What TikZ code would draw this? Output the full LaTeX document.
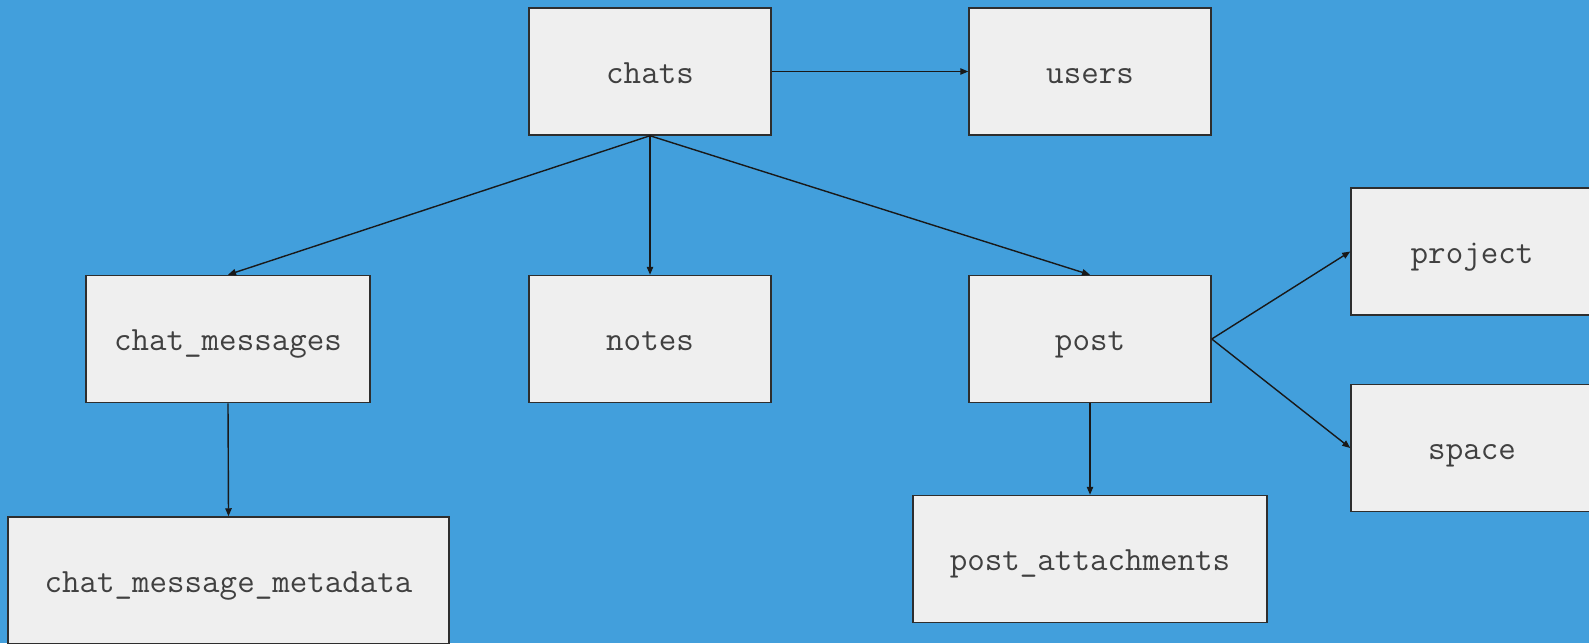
\documentclass[tikz,border=0pt]{standalone}
\usepackage{fontspec}
\usetikzlibrary{arrows.meta}
\definecolor{bgblue}{HTML}{429FDC}
\definecolor{boxfill}{HTML}{EFEFEF}
\definecolor{boxline}{HTML}{2E2E2E}
\definecolor{labeltext}{HTML}{404040}
\tikzset{
  table/.style={draw=boxline, fill=boxfill, line width=0.75pt, inner sep=0pt,
    minimum width=121pt, minimum height=63.5pt,
    text height=13pt, text depth=1.5pt,
    font=\ttfamily\fontsize{17}{18}\selectfont, text=labeltext},
  link/.style={draw=black!90, line width=0.7pt, -{Triangle[length=4pt,width=3.2pt]}}
}
\begin{document}
\begin{tikzpicture}[x=0.5pt, y=-0.5pt]
  \useasboundingbox (0,0) rectangle (1589,643);
  \clip (0,0) rectangle (1589,643);
  \fill[bgblue] (0,0) rectangle (1589,643);

  % tables
  \node[table] (chats) at (650,71.5) {chats};
  \node[table] (users) at (1090,71.5) {users};
  \node[table, minimum width=142pt] (chatmsg) at (228,339) {chat\_messages};
  \node[table] (notes) at (650,339) {notes};
  \node[table] (post) at (1090,339) {post};
  \node[table] (project) at (1472,251.5) {project};
  \node[table] (space) at (1472,448) {space};
  \node[table, minimum width=220.5pt] (meta) at (228.5,580.5) {chat\_message\_metadata};
  \node[table, minimum width=177pt] (attach) at (1090,559) {post\_attachments};

  % relations
  \draw[link] (chats.east) -- (users.west);
  \draw[link] (chats.south) -- (chatmsg.north);
  \draw[link] (chats.south) -- (notes.north);
  \draw[link] (chats.south) -- (post.north);
  \draw[link] (chatmsg.south) -- (meta.north);
  \draw[link] (post.south) -- (attach.north);
  \draw[link] (post.east) -- (project.west);
  \draw[link] (post.east) -- (space.west);
\end{tikzpicture}
\end{document}
